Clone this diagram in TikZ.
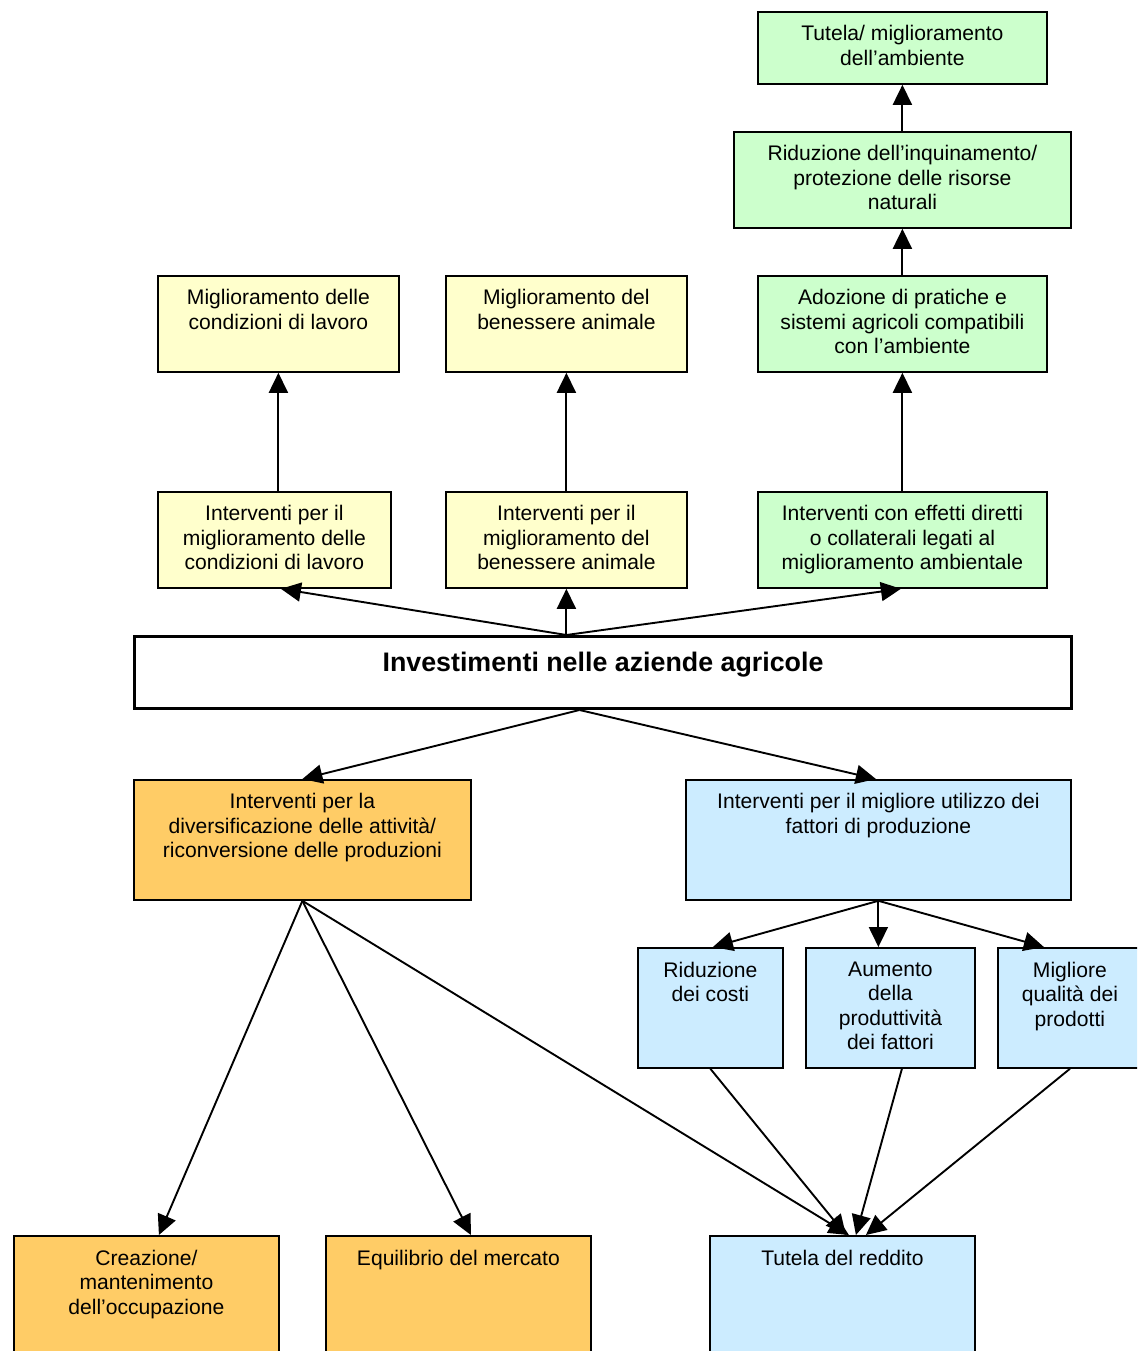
\documentclass[tikz,border=0pt]{standalone}
\usepackage{fontspec}
\setmainfont{Liberation Sans}
\usetikzlibrary{arrows.meta}
\definecolor{grn}{HTML}{CCFFCC}
\definecolor{ylw}{HTML}{FFFFCC}
\definecolor{org}{HTML}{FFCC66}
\definecolor{blu}{HTML}{CCECFF}
\tikzset{
  boxs/.style={draw=black, line width=1.8pt, rectangle, anchor=north west, inner sep=0pt},
  txt/.style={align=center, inner sep=0pt, anchor=north, font=\fontsize{21.1}{24.5}\selectfont},
  arr/.style={line width=1.9pt, -{Triangle[length=20pt,width=19pt]}},
}
\begin{document}
\begin{tikzpicture}[x=1pt,y=-1pt]
\useasboundingbox (0,0) rectangle (1137,1351);
\clip (0,0) rectangle (1137,1351);
\fill[white] (0,0) rectangle (1137,1351);
% boxes
\node[boxs, fill=grn, minimum width=289pt, minimum height=72pt] (t1) at (757,11) {};
\node[boxs, fill=grn, minimum width=337pt, minimum height=96pt] (t2) at (733,131) {};
\node[boxs, fill=ylw, minimum width=241pt, minimum height=96pt] (y1) at (157,275) {};
\node[boxs, fill=ylw, minimum width=241pt, minimum height=96pt] (y2) at (445,275) {};
\node[boxs, fill=grn, minimum width=289pt, minimum height=96pt] (g3) at (757,275) {};
\node[boxs, fill=ylw, minimum width=233pt, minimum height=96pt] (y3) at (157,491) {};
\node[boxs, fill=ylw, minimum width=241pt, minimum height=96pt] (y4) at (445,491) {};
\node[boxs, fill=grn, minimum width=289pt, minimum height=96pt] (g4) at (757,491) {};
\node[boxs, fill=white, line width=3pt, minimum width=937pt, minimum height=72pt] (mn) at (133,635) {};
\node[boxs, fill=org, minimum width=337pt, minimum height=120pt] (o1) at (133,779) {};
\node[boxs, fill=blu, minimum width=385pt, minimum height=120pt] (b1) at (685,779) {};
\node[boxs, fill=blu, minimum width=145pt, minimum height=120pt] (b2) at (637,947) {};
\node[boxs, fill=blu, minimum width=169pt, minimum height=120pt] (b3) at (805,947) {};
\node[boxs, fill=blu, minimum width=144pt, minimum height=120pt] (b4) at (997,947) {};
\node[boxs, fill=org, minimum width=265pt, minimum height=150pt] (o2) at (13,1235) {};
\node[boxs, fill=org, minimum width=265pt, minimum height=150pt] (o3) at (325,1235) {};
\node[boxs, fill=blu, minimum width=265pt, minimum height=150pt] (b5) at (709,1235) {};
% texts
\node[txt] (t1t) at ([yshift=-14.5pt]t1.north) {Tutela/ miglioramento\\dell’ambiente};
\node[txt] (t2t) at ([yshift=-14.5pt]t2.north) {Riduzione dell’inquinamento/\\protezione delle risorse\\naturali};
\node[txt] (y1t) at ([yshift=-14.5pt]y1.north) {Miglioramento delle\\condizioni di lavoro};
\node[txt] (y2t) at ([yshift=-14.5pt]y2.north) {Miglioramento del\\benessere animale};
\node[txt] (g3t) at ([yshift=-14.5pt]g3.north) {Adozione di pratiche e\\sistemi agricoli compatibili\\con l’ambiente};
\node[txt] (y3t) at ([yshift=-14.5pt]y3.north) {Interventi per il\\miglioramento delle\\condizioni di lavoro};
\node[txt] (y4t) at ([yshift=-14.5pt]y4.north) {Interventi per il\\miglioramento del\\benessere animale};
\node[txt] (g4t) at ([yshift=-14.5pt]g4.north) {Interventi con effetti diretti\\o collaterali legati al\\miglioramento ambientale};
\node[txt, font=\fontsize{26.8}{30}\selectfont\bfseries] (mnt) at ([yshift=-16.5pt]mn.north) {Investimenti nelle aziende agricole};
\node[txt] (o1t) at ([yshift=-14.5pt]o1.north) {Interventi per la\\diversificazione delle attività/\\riconversione delle produzioni};
\node[txt] (b1t) at ([yshift=-14.5pt]b1.north) {Interventi per il migliore utilizzo dei\\fattori di produzione};
\node[txt] (b2t) at ([yshift=-14.5pt]b2.north) {Riduzione\\dei costi};
\node[txt] (b3t) at ([yshift=-14.5pt]b3.north) {Aumento\\della\\produttività\\dei fattori};
\node[txt] (b4t) at ([yshift=-14.5pt]b4.north) {Migliore\\qualità dei\\prodotti};
\node[txt] (o2t) at ([yshift=-14.5pt]o2.north) {Creazione/\\mantenimento\\dell’occupazione};
\node[txt] (o3t) at ([yshift=-14.5pt]o3.north) {Equilibrio del mercato};
\node[txt] (b5t) at ([yshift=-14.5pt]b5.north) {Tutela del reddito};
% connectors
\coordinate (mt) at (y4.south |- mn.north);
\coordinate (mb) at ([xshift=-23.5pt]mn.south);
\draw[arr] (t2.north) -- (t1.south);
\draw[arr] (g3.north) -- (t2.south);
\draw[arr] (g4.north) -- (g3.south);
\draw[arr] (y1.south |- y3.north) -- (y1.south);
\draw[arr] (y4.north) -- (y2.south);
\draw[arr] (mt) -- ([xshift=6.5pt]y3.south);
\draw[arr] (mt) -- (y4.south);
\draw[arr] (mt) -- ([xshift=-1.5pt]g4.south);
\draw[arr] (mb) -- (o1.north);
\draw[arr] (mb) -- ([xshift=-2.5pt]b1.north);
\draw[arr] (o1.south) -- ([xshift=12.5pt]o2.north);
\draw[arr] (o1.south) -- ([xshift=12.5pt]o3.north);
\draw[arr] (o1.south) -- ([xshift=6.5pt]b5.north);
\draw[arr] (b1.south) -- ([xshift=2.5pt]b2.north);
\draw[arr] (b1.south) -- (b1.south |- b3.north);
\draw[arr] (b1.south) -- ([xshift=-26pt]b4.north);
\draw[arr] (b2.south) -- ([xshift=3.5pt]b5.north);
\draw[arr] ([xshift=11.5pt]b3.south) -- ([xshift=13.5pt]b5.north);
\draw[arr] (b4.south) -- ([xshift=23.5pt]b5.north);
\end{tikzpicture}
\end{document}
